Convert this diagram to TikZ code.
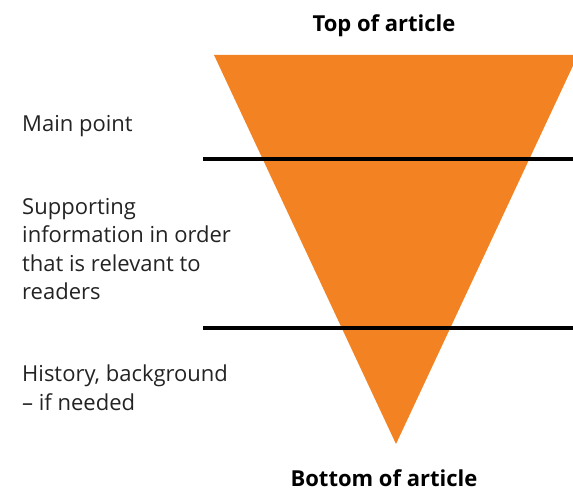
\documentclass[tikz,border=0pt]{standalone}
\usepackage{fontspec}
\setmainfont{Open Sans}
\usepackage{xcolor}
\definecolor{pyramidorange}{RGB}{243,131,34}
\definecolor{labelgray}{RGB}{35,35,35}

\begin{document}
\begin{tikzpicture}[
        x=1pt, y=-1pt,
        label/.style={inner sep=0pt, align=left, text=labelgray,
                      font=\fontsize{22}{28.5}\selectfont},
        heading/.style={inner sep=0pt, anchor=base, text=black,
                        font=\bfseries\fontsize{22}{24}\selectfont},
        divider/.style={line width=3.5pt, black},
      ]
        \useasboundingbox (0,0) rectangle (573,492);

        % inverted pyramid, cut off at the right edge
        \begin{scope}
          \clip (0,0) rectangle (573,492);
          \fill[pyramidorange] (214,55) -- (578,55) -- (396,444) -- cycle;
        \end{scope}

        \draw[divider] (203,159) -- (573,159);
        \draw[divider] (203,328) -- (573,328);

        \node[heading] (top) at (384,31.5) {Top of article};
        \node[heading] (bottom) at (384,486.5) {Bottom of article};

        \node[label, anchor=base west] (main) at (22,131.5) {Main point};
        \node[label, anchor=north west] (support) at (22,198)
          {Supporting\\information in order\\that is relevant to\\readers};
        \node[label, anchor=north west] (history) at (22,365)
          {History, background\\– if needed};
      \end{tikzpicture}
\end{document}
